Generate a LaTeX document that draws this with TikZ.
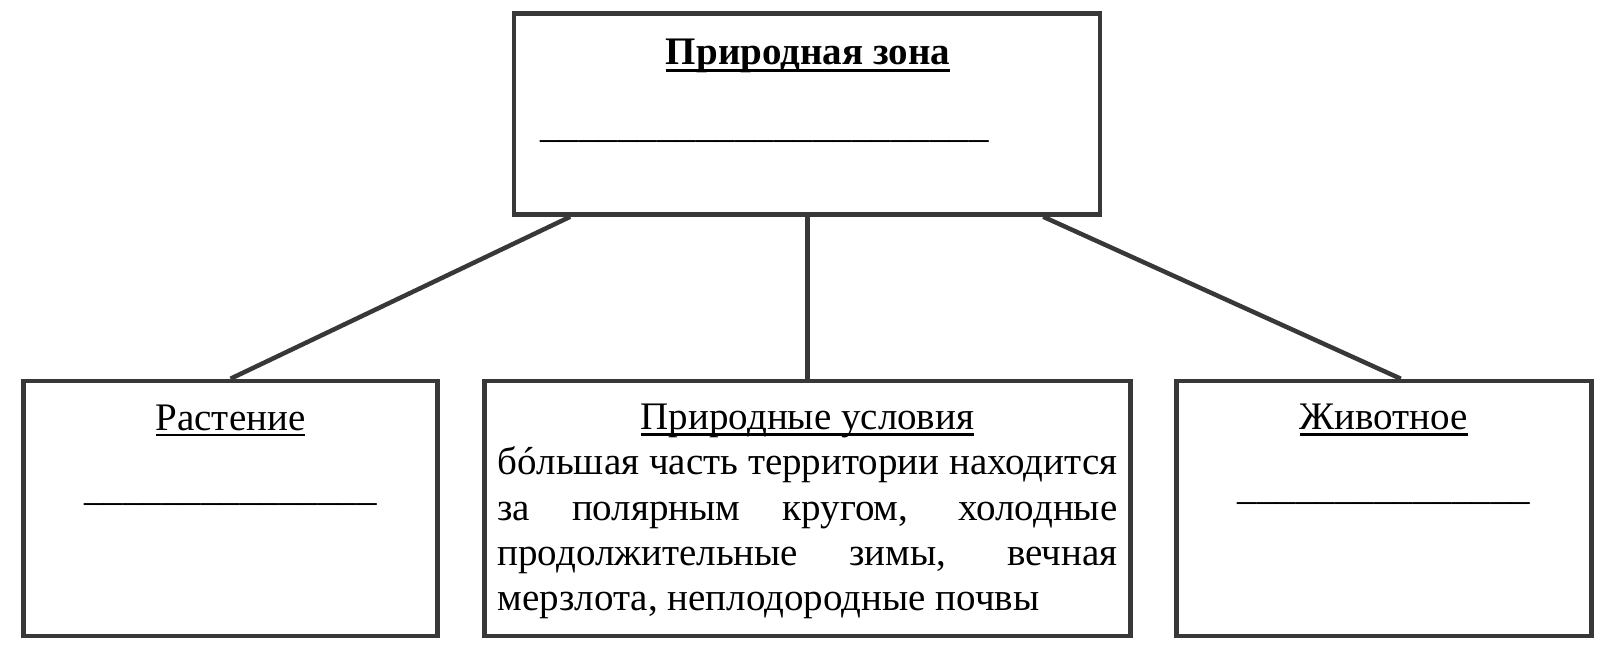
\documentclass[tikz,border=0pt]{standalone}
\usepackage{fontspec}
\setmainfont{Liberation Serif}
\usetikzlibrary{calc}
\definecolor{boxgray}{RGB}{56,56,56}
\newsavebox\ulbox
\newcommand\plaintitle[1]{\sbox\ulbox{#1}\rlap{\vrule width\wd\ulbox height -1.75pt depth 3pt}\usebox\ulbox}
\newcommand\boldtitle[1]{\sbox\ulbox{\bfseries #1}\rlap{\vrule width\wd\ulbox height -2pt depth 3.75pt}\usebox\ulbox}
\newcommand\blank[1]{\foreach \k in {1,...,#1}{\_}}
\begin{document}
\begin{tikzpicture}[x=0.5pt,y=-0.5pt,
    font=\fontsize{19.5pt}{22.65pt}\selectfont,
    box/.style={draw=boxgray,line width=2.25pt,inner sep=0pt},
    txt/.style={inner sep=0pt,anchor=base}]
  \useasboundingbox (0,0) rectangle (1603,651);
  \node[box,minimum width=293pt,minimum height=100.5pt] (zone) at (807,114) {};
  \node[box,minimum width=207pt,minimum height=127.5pt] (plant) at (230.5,508.5) {};
  \node[box,minimum width=323pt,minimum height=127.5pt] (cond) at (807.5,508.5) {};
  \node[box,minimum width=207.5pt,minimum height=127.5pt] (animal) at (1384,508.5) {};
  \node[txt] (zonetitle) at (808,65) {\boldtitle{Природная зона}};
  \node[txt,anchor=base west] (zoneblank) at (540,138) {\blank{23}};
  \node[txt] (planttitle) at (230.5,430.5) {\plaintitle{Растение}};
  \node[txt] (plantblank) at (230.5,501) {\blank{15}};
  \node[txt] (condtitle) at (807.5,430) {\plaintitle{Природные условия}};
  \node[txt,anchor=base west,text width=310pt,align=justify] (condtext) at (497,475)
    {\tolerance=10000\hyphenpenalty=10000
     бóльшая часть территории находится\linebreak
     за полярным кругом, холодные\linebreak
     продолжительные зимы, вечная\linebreak
     мерзлота, неплодородные почвы};
  \node[txt] (animaltitle) at (1384,430) {\plaintitle{Животное}};
  \node[txt] (animalblank) at (1384,500) {\blank{15}};
  \begin{scope}[draw=boxgray,line width=2.25pt]
    \draw ($(zone.south west)!0.099!(zone.south east)$) to (plant.north);
    \draw (cond.north |- zone.south) to (cond.north);
    \draw ($(zone.south west)!0.9!(zone.south east)$) to ($(animal.north west)!0.54!(animal.north east)$);
  \end{scope}
\end{tikzpicture}
\end{document}
